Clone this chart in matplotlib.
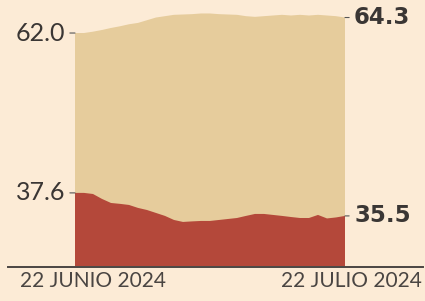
import numpy as np
import matplotlib.pyplot as plt
from matplotlib.lines import Line2D

# Datos diarios, 22 junio -> 22 julio 2024
dias = list(range(31))
serie_beige = [62.0, 62.0, 62.2, 62.45, 62.75, 63.0, 63.3, 63.5, 63.9, 64.3,
               64.5, 64.7, 64.75, 64.8, 64.9, 64.9, 64.8, 64.75, 64.7, 64.5,
               64.4, 64.5, 64.6, 64.7, 64.6, 64.7, 64.6, 64.7, 64.6, 64.5, 64.3]
serie_roja = [37.6, 37.6, 37.5, 37.05, 36.68, 36.6, 36.5, 36.23, 36.04, 35.77,
              35.5, 35.13, 34.95, 35.0, 35.04, 35.04, 35.13, 35.22, 35.31, 35.5,
              35.68, 35.68, 35.59, 35.5, 35.4, 35.31, 35.31, 35.59, 35.27, 35.36, 35.5]
etiqueta_inicio = "22 JUNIO 2024"
etiqueta_fin = "22 JULIO 2024"

fondo = '#fcebd6'
beige = '#e6cc9c'
rojo = '#b4483a'
texto = '#3a3634'

W, H = 425, 301
fig = plt.figure(figsize=(W / 100, H / 100), dpi=100, facecolor=fondo)
ax = fig.add_axes([75 / W, 35 / H, 270 / W, 266 / H])
ax.set_facecolor(fondo)
ax.fill_between(dias, serie_beige, 0, color=beige, lw=0)
ax.set_xlim(dias[0], dias[-1])
ax.set_ylim(27.43, 66.9)
ax.axis('off')

# la serie roja va en otra escala (grafico ilustrativo)
ax2 = ax.twinx()
ax2.fill_between(dias, serie_roja, 0, color=rojo, lw=0)
ax2.set_xlim(dias[0], dias[-1])
ax2.set_ylim(30.93, 55.2)
ax2.axis('off')

def etiqueta(eje, x, y, lado, negrita):
    dx = -10 if lado == 'izq' else 9
    if negrita:
        estilo = dict(fontsize=16.5, family='DejaVu Sans', weight='bold')
    else:
        estilo = dict(fontsize=18, family='Lato', weight='normal')
    eje.annotate(f"{y:.1f}", xy=(x, y), xytext=(dx, 0), textcoords='offset pixels',
                 ha='right' if lado == 'izq' else 'left', va='center',
                 color=texto, **estilo,
                 arrowprops=dict(arrowstyle='-', lw=0.8, color='#555555',
                                 shrinkA=1.5, shrinkB=0))

etiqueta(ax, dias[0], serie_beige[0], 'izq', False)
etiqueta(ax, dias[-1], serie_beige[-1], 'der', True)
etiqueta(ax2, dias[0], serie_roja[0], 'izq', False)
etiqueta(ax2, dias[-1], serie_roja[-1], 'der', True)

# linea base
fig.add_artist(Line2D([8 / W, 423 / W], [(H - 266.5) / H] * 2, color='#4a4542', lw=1.4))

fig.text(20 / W, (H - 281) / H, etiqueta_inicio, ha='left', va='center',
         fontsize=15, family='Lato', weight='normal', color='#4a4542')
fig.text(422 / W, (H - 281) / H, etiqueta_fin, ha='right', va='center',
         fontsize=15, family='Lato', weight='normal', color='#4a4542')

fig.savefig('out.png', dpi=100, facecolor=fondo)
